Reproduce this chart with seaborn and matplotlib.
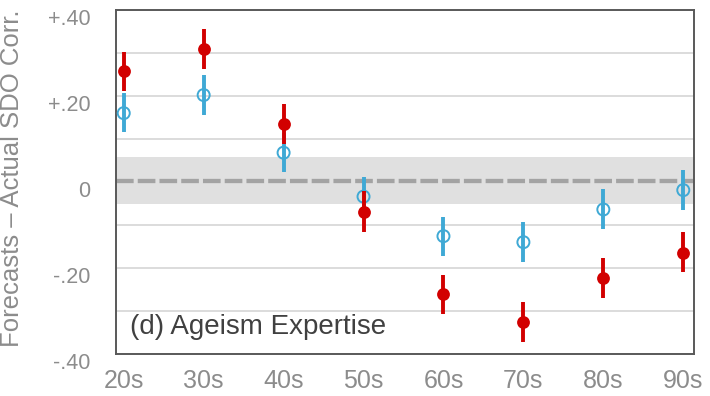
import numpy as np
import pandas as pd
import matplotlib
matplotlib.use("Agg")
import matplotlib.pyplot as plt
import matplotlib.transforms as mtransforms
import seaborn as sns

# data
decades = ["20s", "30s", "40s", "50s", "60s", "70s", "80s", "90s"]
red_mean = [0.258, 0.309, 0.135, -0.069, -0.261, -0.325, -0.223, -0.164]
red_lo = [0.212, 0.262, 0.088, -0.116, -0.308, -0.371, -0.270, -0.210]
red_hi = [0.303, 0.355, 0.181, -0.022, -0.216, -0.278, -0.177, -0.117]
blue_mean = [0.160, 0.202, 0.068, -0.034, -0.126, -0.140, -0.064, -0.019]
blue_lo = [0.115, 0.156, 0.022, -0.079, -0.172, -0.185, -0.109, -0.065]
blue_hi = [0.206, 0.248, 0.114, 0.011, -0.081, -0.094, -0.017, 0.028]
ref_line = 0.003
band_lo, band_hi = -0.052, 0.058

yticks = [-0.4, -0.3, -0.2, -0.1, 0.0, 0.1, 0.2, 0.3, 0.4]
ytick_labels = ["-.40", "", "-.20", "", "0", "", "+.20", "", "+.40"]
panel_title = "(d) Ageism Expertise"
ylabel = "Forecasts \u2013 Actual SDO Corr."

RED = "#D20000"
BLUE = "#3FA9D5"
GREY_TXT = "#8C8C8C"

sns.set_theme(style="white")
plt.rcParams["font.family"] = ["Liberation Sans", "DejaVu Sans"]

pos = np.arange(len(decades))
df = pd.DataFrame({"pos": pos, "red": red_mean, "blue": blue_mean,
                   "red_lo": red_lo, "red_hi": red_hi,
                   "blue_lo": blue_lo, "blue_hi": blue_hi})

fig = plt.figure(figsize=(7.1, 3.96), dpi=100)
ax = fig.add_axes([0.163, 0.106, 0.814, 0.869])

# grid + reference band
for y in yticks:
    ax.axhline(y, color="#D9D9D9", lw=1.3, zorder=0)
ax.axhspan(band_lo, band_hi, color="#E0E0E0", lw=0, zorder=0.5)
ax.axhline(ref_line, color="#A3A3A3", lw=3.1, dashes=(4.1, 0.95),
           dash_capstyle="butt", zorder=1)

# blue series (open circles)
ax.vlines(df["pos"], df["blue_lo"], df["blue_hi"], color=BLUE, lw=2.8, zorder=2)
sns.scatterplot(data=df, x="pos", y="blue", ax=ax, s=75, marker="o",
                facecolor="none", edgecolor=BLUE, linewidth=1.4, zorder=3)

# red series (filled circles)
ax.vlines(df["pos"], df["red_lo"], df["red_hi"], color=RED, lw=2.8, zorder=4)
sns.scatterplot(data=df, x="pos", y="red", ax=ax, s=85, marker="o",
                color=RED, edgecolor=RED, linewidth=0, zorder=5)

ax.set_xlim(-0.1, 7.13)
ax.set_ylim(-0.4, 0.4)
ax.set_xticks(pos)
ax.set_xticklabels(decades, fontsize=18, color=GREY_TXT)
ax.set_yticks(yticks)
ax.set_yticklabels(ytick_labels, fontsize=15.5, color=GREY_TXT)
ax.tick_params(axis="both", length=0)
ax.tick_params(axis="y", pad=18)
ax.tick_params(axis="x", pad=11)
off = mtransforms.ScaledTranslation(0, -7 / 100, fig.dpi_scale_trans)
for lab in ax.get_yticklabels():
    lab.set_transform(lab.get_transform() + off)

ax.set_xlabel("")
ax.set_ylabel(ylabel, fontsize=18.5, color=GREY_TXT)
ax.yaxis.set_label_coords(-0.159, 0.51)

for sp in ax.spines.values():
    sp.set_visible(True)
    sp.set_color("#595959")
    sp.set_linewidth(1.4)

ax.text(0.024, 0.04, panel_title, transform=ax.transAxes, fontsize=20,
        color="#404040", ha="left", va="bottom")

fig.savefig("out.png", dpi=100)
